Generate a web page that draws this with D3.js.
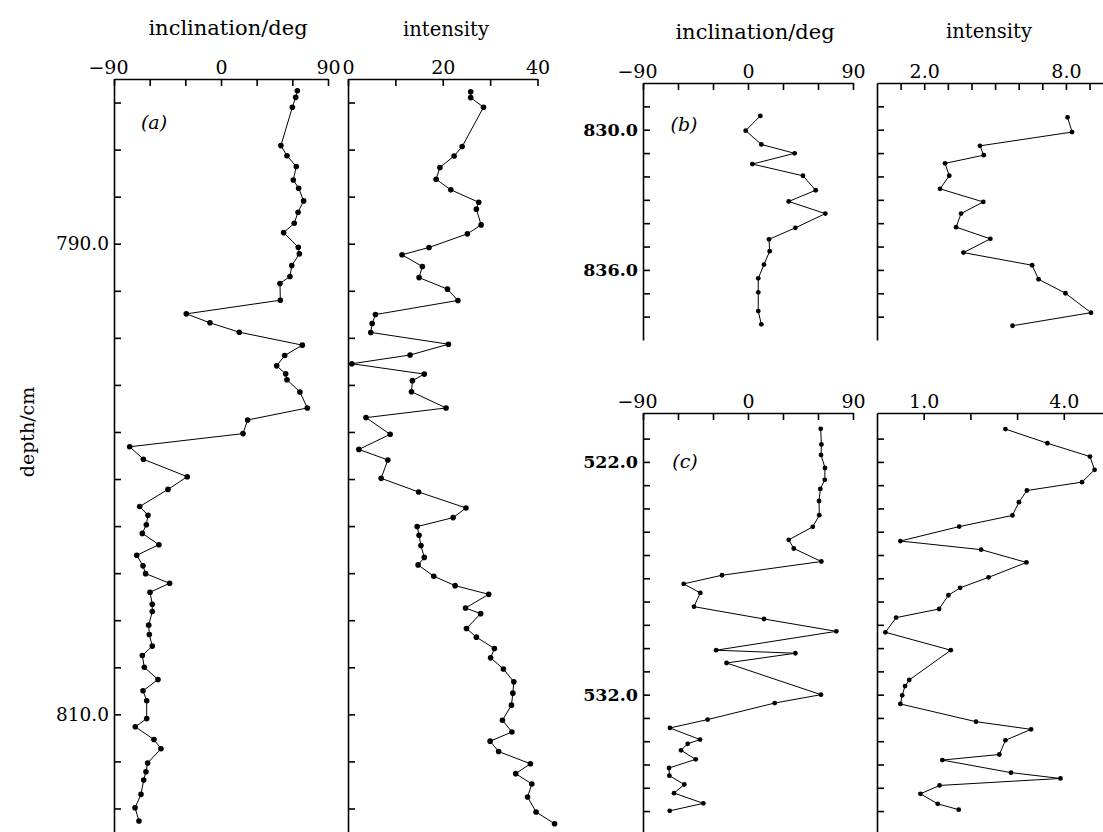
<!DOCTYPE html>
<html lang="en">
<head>
<meta charset="utf-8">
<title>inclination and intensity</title>
<style>
  body { margin: 0; background: #fff; }
  svg text { font-family: "DejaVu Serif", serif; fill: #000; }
</style>
</head>
<body>

<script src="https://cdn.jsdelivr.net/npm/d3@7"></script>

<script>

// (a) inclination / intensity, depth 783-815 cm
var incADepth = [783.50, 783.78, 784.20, 785.83, 786.26, 786.72, 787.29, 787.64, 788.18, 788.66, 789.13, 789.53, 790.15, 790.43, 790.93, 791.39,
  791.69, 792.40, 792.98, 793.36, 793.76, 794.31, 794.75, 795.19, 795.53, 795.78, 796.30, 796.98, 797.49, 798.07, 798.63, 799.16,
  799.90, 800.44, 801.17, 801.54, 801.94, 802.31, 802.79, 803.24, 803.69, 804.02, 804.43, 804.81, 805.32, 805.63, 806.21, 806.61,
  807.10, 807.50, 808.00, 808.52, 809.00, 809.42, 810.18, 810.53, 811.07, 811.46, 812.07, 812.44, 812.79, 813.40, 813.97, 814.53];
var incA = [64.2, 62.8, 60.0, 50.4, 55.5, 63.3, 60.8, 65.3, 69.5, 64.8, 61.6, 52.7, 65.0, 65.9, 59.5, 58.0,
  49.6, 49.9, -29.2, -9.3, 15.4, 68.4, 53.6, 46.8, 54.4, 55.5, 66.4, 72.6, 22.4, 18.5, -76.8, -65.3,
  -28.4, -44.6, -68.4, -61.4, -62.8, -66.2, -52.2, -70.9, -65.6, -63.4, -43.2, -59.7, -57.8, -57.8, -60.8, -60.3,
  -57.8, -66.2, -64.5, -53.0, -65.6, -62.5, -62.5, -72.1, -56.4, -50.5, -61.7, -63.1, -65.0, -67.3, -72.3, -69.0];

var intADepth = [783.54, 783.79, 784.20, 785.87, 786.27, 786.76, 787.26, 787.71, 788.24, 788.53, 789.20, 789.58, 790.16, 790.47, 790.97, 791.44,
  791.93, 792.41, 793.01, 793.39, 793.77, 794.27, 794.73, 795.10, 795.54, 795.82, 796.29, 796.98, 797.39, 798.10, 798.74, 799.19,
  799.97, 800.55, 801.23, 801.64, 802.02, 802.39, 802.83, 803.33, 803.65, 804.13, 804.53, 804.90, 805.48, 805.72, 806.35, 806.72,
  807.20, 807.60, 808.07, 808.62, 809.10, 809.61, 810.25, 810.75, 811.14, 811.58, 812.10, 812.52, 812.96, 813.51, 814.15, 814.65];
var intA = [25.9, 25.9, 28.6, 24.1, 22.4, 19.4, 18.6, 21.7, 27.6, 27.1, 28.1, 25.2, 17.1, 11.4, 15.7, 15.0,
  21.0, 23.2, 5.8, 5.1, 4.8, 21.2, 13.1, 0.8, 16.1, 13.6, 13.4, 20.7, 3.8, 8.9, 2.3, 8.4,
  7.0, 14.9, 24.9, 22.2, 14.6, 15.0, 15.4, 16.1, 14.8, 18.1, 22.6, 29.7, 24.8, 28.0, 25.0, 27.1,
  30.9, 30.1, 32.8, 35.0, 34.8, 34.5, 32.6, 34.6, 30.0, 31.8, 38.5, 35.4, 38.8, 37.9, 39.7, 43.6];

// (b) depth 828-839 cm
var incBDepth = [829.41, 830.04, 830.63, 831.01, 831.47, 831.97, 832.59, 833.07, 833.59, 834.20, 834.69, 835.20, 835.77, 836.36, 836.96, 837.76, 838.33];
var incB = [10.6, -2.0, 11.4, 40.0, 3.7, 47.1, 58.0, 34.9, 66.3, 40.6, 18.0, 18.6, 13.7, 8.8, 8.8, 8.8, 11.4];
var intBDepth = [829.47, 830.10, 830.69, 831.09, 831.44, 831.97, 832.53, 833.09, 833.59, 834.17, 834.67, 835.26, 835.80, 836.40, 837.00, 837.83, 838.39];
var intB = [8.07, 8.26, 4.36, 4.52, 2.88, 3.06, 2.67, 4.50, 3.56, 3.35, 4.80, 3.66, 6.57, 6.84, 7.98, 9.06, 5.74];

// (c) depth 520-538 cm
var incCDepth = [520.58, 521.25, 521.70, 522.26, 522.77, 523.16, 523.68, 524.29, 524.79, 525.35, 525.72, 526.28, 526.87, 527.24, 527.63, 528.22, 528.75, 529.28,
  530.09, 530.22, 530.64, 532.00, 532.36, 533.07, 533.43, 533.93, 534.11, 534.39, 534.78, 535.15, 535.48, 535.86, 536.23, 536.67, 536.99];
var incC = [62.3, 62.9, 62.6, 66.0, 65.8, 62.0, 60.9, 61.1, 55.5, 34.9, 39.2, 62.9, -22.3, -55.1, -40.9, -46.3, 13.7, 75.7,
  -27.3, 40.6, -18.4, 62.6, 22.9, -34.6, -66.9, -41.1, -51.7, -57.4, -44.8, -67.7, -67.4, -54.6, -63.4, -38.3, -67.1];
var intCDepth = [520.59, 521.20, 521.77, 522.34, 522.87, 523.23, 523.73, 524.30, 524.78, 525.40, 525.77, 526.32, 526.96, 527.41, 527.73, 528.32, 528.69,
  529.32, 530.09, 531.37, 531.63, 532.03, 532.40, 533.16, 533.49, 533.96, 534.57, 534.81, 535.35, 535.60, 535.90, 536.26, 536.69, 536.94];
var intC = [2.75, 3.65, 4.56, 4.66, 4.39, 3.21, 3.04, 2.90, 1.76, 0.50, 2.23, 3.20, 2.39, 1.78, 1.53, 1.33, 0.41,
  0.18, 1.58, 0.69, 0.60, 0.54, 0.50, 2.12, 3.30, 2.75, 2.62, 1.40, 2.87, 3.93, 1.34, 0.93, 1.30, 1.75];

// tick values and labels
var incTicks = [-90, -60, -30, 0, 30, 60, 90];
var incLabels = [-90, 0, 90];
var intATicks = [0, 10, 20, 30, 40];
var intALabels = [0, 20, 40];
var intBTicks = [1, 2, 3, 4, 5, 6, 7, 8, 9];
var intBLabels = [2, 8];
var intCTicks = [1, 2, 3, 4];
var intCLabels = [1, 4];
var depthATicks = d3.range(784, 815, 2);
var depthALabels = [790, 810];
var depthBTicks = d3.range(829, 839, 1);
var depthBLabels = [830, 836];
var depthCTicks = d3.range(521, 538, 1);
var depthCLabels = [522, 532];

var svg = d3.select("body").append("svg")
  .attr("width", 1103)
  .attr("height", 832);

// one column: top axis, left axis, line + dots
function column(o) {
  var x = d3.scaleLinear().domain(o.xDomain).range([o.left, o.right]);
  var y = d3.scaleLinear().domain(o.yDomain).range([o.top, o.bottom]);

  var gx = svg.append("g")
    .attr("transform", "translate(0," + o.top + ")")
    .call(d3.axisTop(x)
      .tickValues(o.xTicks)
      .tickSizeInner(-7)
      .tickSizeOuter(0)
      .tickPadding(5)
      .tickFormat(function(d) { return o.xLabels.indexOf(d) >= 0 ? o.xFmt(d) : ""; }));
  gx.selectAll("text")
    .attr("font-size", 19)
    .attr("dx", function(d) { return d < 0 ? -6 : 0; });

  var gy = svg.append("g")
    .attr("transform", "translate(" + o.left + ",0)")
    .call(d3.axisLeft(y)
      .tickValues(o.yTicks)
      .tickSizeInner(-7)
      .tickSizeOuter(0)
      .tickPadding(o.yPad)
      .tickFormat(function(d) { return o.yLabels.indexOf(d) >= 0 ? d3.format(".1f")(d) : ""; }));
  gy.selectAll("text")
    .attr("font-size", o.yBold ? 17.5 : 18.5)
    .attr("font-weight", o.yBold ? "bold" : "normal");

  svg.selectAll(".domain").attr("stroke-width", 1.6);
  svg.selectAll(".tick line").attr("stroke-width", 1.6);

  var line = d3.line()
    .x(function(d, i) { return x(o.values[i]); })
    .y(function(d) { return y(d); });

  svg.append("path")
    .datum(o.depths)
    .attr("d", line)
    .attr("fill", "none")
    .attr("stroke", "#000")
    .attr("stroke-width", 1);

  svg.append("g").selectAll("circle")
    .data(o.depths)
    .enter().append("circle")
    .attr("cx", function(d, i) { return x(o.values[i]); })
    .attr("cy", function(d) { return y(d); })
    .attr("r", o.r)
    .attr("fill", "#000");
}

var fInt = d3.format("d");
var fDec = d3.format(".1f");

// (a)
column({xDomain: [-90, 90], left: 114, right: 328, yDomain: [783, 815], top: 79, bottom: 832,
  xTicks: incTicks, xLabels: incLabels, xFmt: fInt,
  yTicks: depthATicks, yLabels: depthALabels, yPad: 5, yBold: false,
  depths: incADepth, values: incA, r: 2.8});
column({xDomain: [0, 40], left: 348, right: 537.5, yDomain: [783, 815], top: 79, bottom: 832,
  xTicks: intATicks, xLabels: intALabels, xFmt: fInt,
  yTicks: depthATicks, yLabels: [], yPad: 5, yBold: false,
  depths: intADepth, values: intA, r: 2.8});

// (b)
column({xDomain: [-90, 90], left: 643, right: 853, yDomain: [828, 839], top: 83, bottom: 340,
  xTicks: incTicks, xLabels: incLabels, xFmt: fInt,
  yTicks: depthBTicks, yLabels: depthBLabels, yPad: 5, yBold: true,
  depths: incBDepth, values: incB, r: 2.4});
column({xDomain: [0, 9.57], left: 877, right: 1103, yDomain: [828, 839], top: 83, bottom: 340,
  xTicks: intBTicks, xLabels: intBLabels, xFmt: fDec,
  yTicks: depthBTicks, yLabels: [], yPad: 5, yBold: true,
  depths: intBDepth, values: intB, r: 2.4});

// (c)
column({xDomain: [-90, 90], left: 643, right: 853, yDomain: [519.9, 537.9], top: 413, bottom: 832,
  xTicks: incTicks, xLabels: incLabels, xFmt: fInt,
  yTicks: depthCTicks, yLabels: depthCLabels, yPad: 5, yBold: true,
  depths: incCDepth, values: incC, r: 2.4});
column({xDomain: [0, 4.84], left: 877, right: 1103, yDomain: [519.9, 537.9], top: 413, bottom: 832,
  xTicks: intCTicks, xLabels: intCLabels, xFmt: fDec,
  yTicks: depthCTicks, yLabels: [], yPad: 5, yBold: true,
  depths: intCDepth, values: intC, r: 2.4});

// titles
function label(txt, x, y, size, style) {
  return svg.append("text")
    .attr("x", x).attr("y", y)
    .attr("text-anchor", "middle")
    .attr("font-size", size)
    .attr("font-style", style || "normal")
    .text(txt);
}
label("inclination/deg", 228, 35, 21);
label("intensity", 446, 36, 19.5);
label("inclination/deg", 755, 39, 21);
label("intensity", 989, 38, 19.5);

label("(a)", 154, 129, 19, "italic");
label("(b)", 684, 131, 19, "italic");
label("(c)", 685, 468, 19, "italic");

svg.append("text")
  .attr("transform", "translate(34,432) rotate(-90)")
  .attr("text-anchor", "middle")
  .attr("font-size", 19)
  .text("depth/cm");

</script>

</body>
</html>
